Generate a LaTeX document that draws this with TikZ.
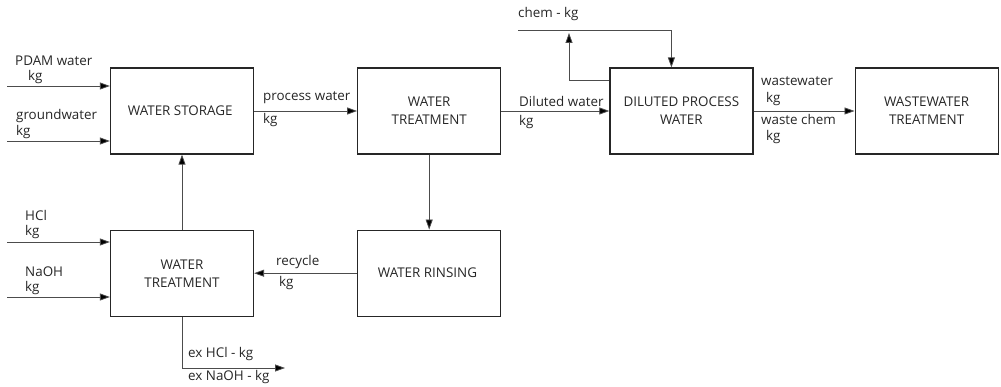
\documentclass[tikz,border=0pt]{standalone}
\usepackage{fontspec}
\setmainfont{Open Sans}
\usetikzlibrary{arrows.meta,positioning}
\tikzset{
  process box/.style = {
    shape = rectangle,
    align = center,
    draw  = black!85,
    line width = 1.2pt,
    text = black!85,
    minimum width = 143pt,
    minimum height = 86pt,
    inner sep = 0pt},
  flow/.style = {draw = black!70, line width = 0.8pt,
    -{Triangle[length = 10pt, width = 7pt, fill = black]}},
  flow label/.style = {anchor = west, inner sep = 0pt, text = black!85}
}

\begin{document}
\begin{tikzpicture}[x = 1pt, y = -1pt, node distance = 75pt, font = \fontsize{13.4}{18}\selectfont]
  \useasboundingbox (0,0) rectangle (1001,387);
  \node[process box] (storage) at (182,111) { WATER STORAGE };
  \node[process box, right = 103pt of storage] (treatment) { WATER \\ TREATMENT };
  \node[process box, right = 108pt of treatment] (diluted) { DILUTED PROCESS \\ WATER };
  \node[process box, right = 101pt of diluted] (wastewater) { WASTEWATER \\ TREATMENT };
  \node[process box, below = of treatment] (rinsing) { WATER RINSING };
  \node[process box, below = of storage] (pretreat) { WATER \\ TREATMENT };

  % free ends of the feed and discharge lines
  \coordinate (pdam in) at (7,86);
  \coordinate (ground in) at (7,141);
  \coordinate (hcl in) at (7,242);
  \coordinate (naoh in) at (7,297);
  \coordinate (ex out) at (285,368);
  \coordinate (chem in) at (518,30);
  \coordinate (chem out) at (569,33);

  \draw[flow] (pdam in) -- (storage.west |- pdam in);
  \draw[flow] (ground in) -- (storage.west |- ground in);
  \draw[flow] (storage) -- (treatment);
  \draw[flow] (treatment) -- (diluted);
  \draw[flow] (diluted) -- (wastewater);
  \draw[flow] (treatment) -- (rinsing);
  \draw[flow] (rinsing) -- (pretreat);
  \draw[flow] (pretreat) -- (storage);
  \draw[flow] (hcl in) -- (pretreat.west |- hcl in);
  \draw[flow] (naoh in) -- (pretreat.west |- naoh in);
  \draw[flow] (pretreat.south) |- (ex out);
  \draw[flow] ([yshift = 31pt]diluted.west) -| (chem out);
  \draw[flow] (chem in) -| ([xshift = -10pt]diluted.north);

  % stream labels
  \node[flow label] (l pdam) at (15,61) {PDAM water};
  \node[flow label] (l pdam kg) at (28,77) {kg};
  \node[flow label] (l ground) at (16,116) {groundwater};
  \node[flow label] (l ground kg) at (16,132) {kg};
  \node[flow label] (l process) at (263,98) {process water};
  \node[flow label] (l process kg) at (263,120) {kg};
  \node[flow label] (l dil) at (519,101) {Diluted water};
  \node[flow label] (l dil kg) at (519,122) {kg};
  \node[flow label] (l ww) at (761,81) {wastewater};
  \node[flow label] (l ww kg) at (766,99) {kg};
  \node[flow label] (l wc) at (761,119) {waste chem};
  \node[flow label] (l wc kg) at (766,137) {kg};
  \node[flow label] (l chem) at (518,14) {chem - kg};
  \node[flow label] (l hcl) at (25,215) {HCl};
  \node[flow label] (l hcl kg) at (25,232) {kg};
  \node[flow label] (l naoh) at (25,272) {NaOH};
  \node[flow label] (l naoh kg) at (25,288) {kg};
  \node[flow label] (l recycle) at (276,262) {recycle};
  \node[flow label] (l recycle kg) at (279,283) {kg};
  \node[flow label] (l exhcl) at (188,354) {ex HCl - kg};
  \node[flow label] (l exnaoh) at (188,377) {ex NaOH - kg};
\end{tikzpicture}
\end{document}
